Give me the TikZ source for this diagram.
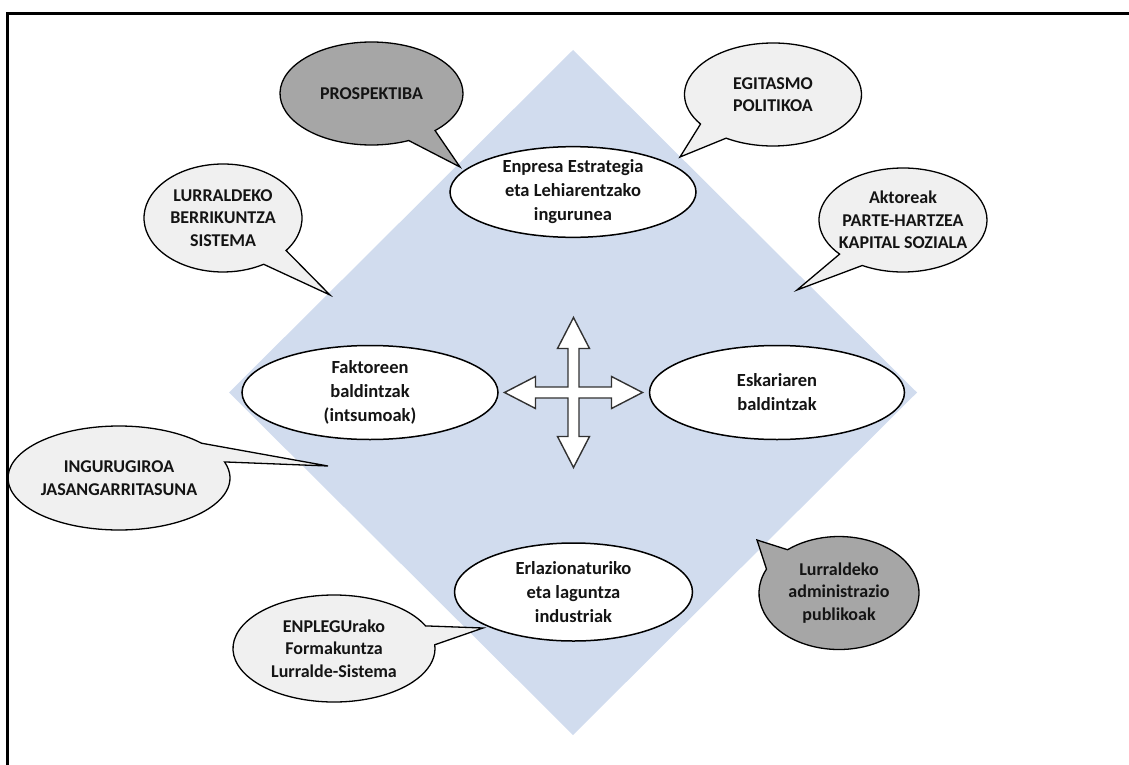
\documentclass[tikz,border=0pt]{standalone}
\usepackage{fontspec}
\setmainfont{Carlito}
\usetikzlibrary{shapes.geometric}
\definecolor{diamondc}{RGB}{209,220,238}
\definecolor{darkbub}{RGB}{166,166,166}
\definecolor{lightbub}{RGB}{240,240,240}
\definecolor{txt}{RGB}{20,20,20}
\definecolor{arrowline}{RGB}{50,50,50}
\begin{document}
\begin{tikzpicture}[x=1pt,y=-1pt,
  oval/.style={ellipse,draw=black,line width=1.5pt,fill=white,inner sep=0pt,outer sep=0pt,
    align=center,font=\bfseries\fontsize{18.5}{24}\selectfont,text=txt},
  btext/.style={inner sep=0pt,align=center,font=\bfseries\fontsize{18}{22.5}\selectfont,text=txt},
  lightb/.style={draw=black,line width=1.3pt,fill=lightbub,line join=miter},
  darkb/.style={draw=black,line width=1.3pt,fill=darkbub,line join=miter},
  framestyle/.style={line width=3pt,draw=black},
  crossarrow/.style={fill=white,draw=arrowline,line width=1.4pt,line join=miter}]
\useasboundingbox (0,0) rectangle (1129,765);
% frame
\draw[framestyle] (7.5,772) -- (7.5,13.5) -- (1136,13.5);
% diamond
\fill[diamondc] (573,50) -- (917,392.5) -- (573,735) -- (229,392.5) -- cycle;
% central ovals
\node[oval,minimum width=246pt,minimum height=78pt] (top) at (573,192) {Enpresa Estrategia\\eta Lehiarentzako\\ingurunea};
\node[oval,minimum width=256pt,minimum height=94pt] (left) at (370,392.5) {Faktoreen\\baldintzak\\(intsumoak)};
\node[oval,minimum width=255pt,minimum height=94pt] (right) at (777,392.5) {Eskariaren\\baldintzak};
\node[oval,minimum width=238pt,minimum height=98pt] (bottom) at (573.5,592) {Erlazionaturiko\\eta laguntza\\industriak};
% cross arrow
\begin{scope}[shift={(573.5,392.5)}]
\draw[crossarrow] (0,-75) -- (16,-44) -- (5.5,-44) -- (5.5,-5.5) -- (38,-5.5) -- (38,-16) -- (69,0)
  -- (38,16) -- (38,5.5) -- (5.5,5.5) -- (5.5,44) -- (16,44) -- (0,75) -- (-16,44) -- (-5.5,44)
  -- (-5.5,5.5) -- (-38,5.5) -- (-38,16) -- (-69,0) -- (-38,-16) -- (-38,-5.5) -- (-5.5,-5.5)
  -- (-5.5,-44) -- (-16,-44) -- cycle;
\end{scope}
% callout centres and tips
\coordinate (prospC) at (371.5,93.5);  \coordinate (tProsp) at (460,167);
\coordinate (egitC) at (773,94.5);     \coordinate (tEgit) at (680,157);
\coordinate (lurrC) at (223,218);      \coordinate (tLurr) at (330,295);
\coordinate (aktC) at (903,220);       \coordinate (tAkt) at (797,290);
\coordinate (ingC) at (119,478);       \coordinate (tIng) at (328,466);
\coordinate (admC) at (839,593);       \coordinate (tAdm) at (757,540);
\coordinate (enpC) at (334,648.5);     \coordinate (tEnp) at (483,628);
% callout shapes
\draw[darkb] (prospC) ++(-46:91.5pt and 51.5pt) arc[start angle=-46,end angle=294,x radius=91.5pt,y radius=51.5pt] -- (tProsp) -- cycle;
\draw[lightb] (egitC) ++(-122:88.5pt and 51.5pt) arc[start angle=-122,end angle=215,x radius=88.5pt,y radius=51.5pt] -- (tEgit) -- cycle;
\draw[lightb] (lurrC) ++(-37:79pt and 54pt) arc[start angle=-37,end angle=301,x radius=79pt,y radius=54pt] -- (tLurr) -- cycle;
\draw[lightb] (aktC) ++(-119:84pt and 52pt) arc[start angle=-119,end angle=221,x radius=84pt,y radius=52pt] -- (tAkt) -- cycle;
\draw[lightb] (ingC) ++(42:111pt and 52pt) arc[start angle=42,end angle=378,x radius=111pt,y radius=52pt] -- (tIng) -- cycle;
\draw[darkb] (admC) ++(155:80pt and 56.5pt) arc[start angle=155,end angle=490,x radius=80pt,y radius=56.5pt] -- (tAdm) -- cycle;
\draw[lightb] (enpC) ++(25:101pt and 53.5pt) arc[start angle=25,end angle=364,x radius=101pt,y radius=53.5pt] -- (tEnp) -- cycle;
% callout texts
\node[btext] (prosp) at (prospC) {PROSPEKTIBA};
\node[btext] (egit) at (egitC) {EGITASMO\\POLITIKOA};
\node[btext] (lurr) at (lurrC) {LURRALDEKO\\BERRIKUNTZA\\SISTEMA};
\node[btext] (akt) at (aktC) {Aktoreak\\PARTE-HARTZEA\\KAPITAL SOZIALA};
\node[btext] (ing) at (ingC) {INGURUGIROA\\JASANGARRITASUNA};
\node[btext] (adm) at (admC) {Lurraldeko\\administrazio\\publikoak};
\node[btext] (enp) at (enpC) {ENPLEGUrako\\Formakuntza\\Lurralde-Sistema};
\end{tikzpicture}
\end{document}
